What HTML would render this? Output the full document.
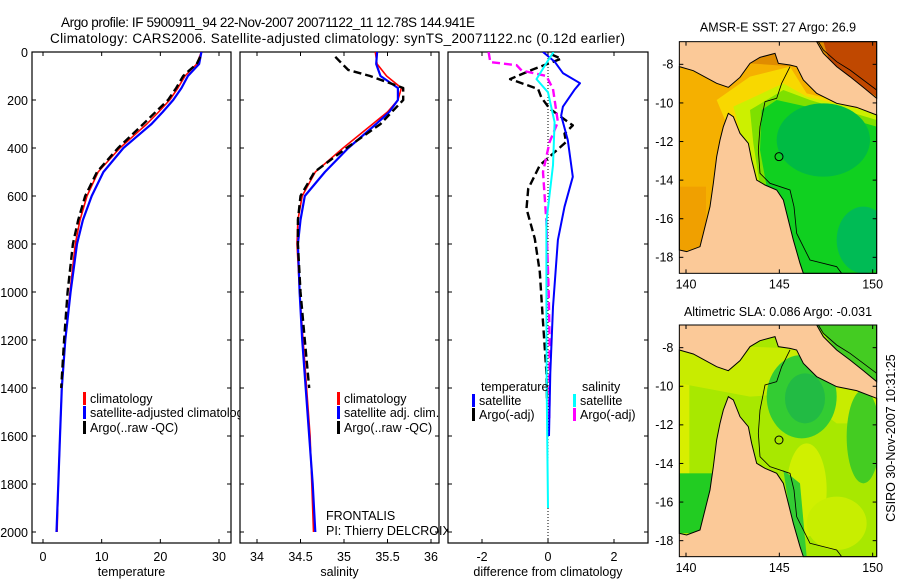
<!DOCTYPE html>
<html><head><meta charset="utf-8"><style>
html,body{margin:0;padding:0;background:#fff;}
svg{display:block;font-family:"Liberation Sans",sans-serif;}
</style></head><body>
<svg id="fig" width="900" height="580" viewBox="0 0 900 580" xmlns="http://www.w3.org/2000/svg">
<rect x="0" y="0" width="900" height="580" fill="#fff"/>
<text x="61" y="27" font-size="13.5" textLength="414">Argo profile: IF 5900911_94 22-Nov-2007 20071122_11 12.78S 144.941E</text>
<text x="50" y="43" font-size="13.5" textLength="575">Climatology: CARS2006. Satellite-adjusted climatology: synTS_20071122.nc (0.12d earlier)</text>
<g id="charts"></g>
<g id="maps"></g>
<text transform="translate(895,438) rotate(-90)" text-anchor="middle" font-size="12.5">CSIRO 30-Nov-2007 10:31:25</text>
</svg>
<script>
// ---- data ----
const depth = [0,50,100,150,200,250,300,400,500,600,700,800,1000,1200,1400,1600,1800,2000];
const tempClim = [27.0,26.2,24.2,23.0,21.6,19.7,17.7,13.1,9.4,7.5,6.3,5.5,4.6,3.8,3.2,2.9,2.6,2.4];
const tempSat  = [27.0,26.6,24.7,23.6,22.2,20.4,18.5,13.7,10.3,8.3,6.8,5.8,4.7,3.8,3.2,2.9,2.6,2.3];
const argoDepth = [20,50,75,100,150,200,250,300,400,500,600,700,800,1000,1200,1400];
const tempArgo = [26.8,26.2,25.0,23.9,22.7,21.3,19.2,17.1,12.8,9.2,7.2,6.0,5.1,4.2,3.6,3.1];
const salClim = [35.36,35.38,35.49,35.66,35.62,35.50,35.33,34.99,34.67,34.52,34.47,34.46,34.49,34.53,34.57,34.61,34.63,34.65];
const salSat  = [35.38,35.37,35.42,35.62,35.62,35.52,35.37,35.05,34.78,34.55,34.50,34.47,34.49,34.52,34.56,34.60,34.64,34.67];
const salArgo = [34.90,34.98,35.05,35.30,35.68,35.68,35.55,35.42,35.03,34.66,34.50,34.47,34.47,34.50,34.55,34.60];
const dTsatDepth = [0,40,88,130,158,228,265,367,520,645,783,1062,1337,1600];
const dTsat = [-0.15,0.2,0.45,0.97,0.8,0.45,0.4,0.6,0.75,0.5,0.3,0.15,0.07,0.03];
const dSsatDepth = [0,42,113,168,292,472,708,1000,1400,1900];
const dSsat = [0.17,-0.03,-0.35,0.0,0.2,0.15,-0.05,-0.05,-0.04,0.0];
const dTargoDepth = [10,28,75,113,154,190,236,306,340,375,472,570,653,778,917,1125,1333,1450];
const dTargo = [0.1,0.4,-0.5,-1.15,-0.3,-0.2,0.05,0.75,0.5,0.55,-0.25,-0.6,-0.65,-0.4,-0.25,-0.15,-0.05,-0.03];
const dSargoDepth = [0,42,55,77,100,154,292,375,500,708,1000,1200,1540];
const dSargo = [-1.8,-1.75,-0.95,-0.8,-0.05,0.15,0.3,0.05,-0.15,-0.05,0.02,0.05,0.04];
const depthTicks = [0,200,400,600,800,1000,1200,1400,1600,1800,2000];
const tempTicks = [0,10,20,30];
const salTicks = [34,34.5,35,35.5,36];
const salTickLabels = ["34","34.5","35","35.5","36"];
const diffTicks = [-2,0,2];
const lonTicks = [140,145,150];
const latTicks = [-8,-10,-12,-14,-16,-18];

const NS="http://www.w3.org/2000/svg";
const root=document.getElementById('charts');
function mk(tag, attrs, parent){const e=document.createElementNS(NS,tag);for(const k in attrs)e.setAttribute(k,attrs[k]);(parent||root).appendChild(e);return e;}
const yD = d => 52 + d*0.24;
const pTop=52, pBot=543;
const panels=[
 {x0:32,x1:231,sx:v=>43+v*5.867,ticks:tempTicks,labels:["0","10","20","30"],title:"temperature",name:"temperature-panel"},
 {x0:240,x1:439,sx:v=>257+(v-34)*87,ticks:salTicks,labels:salTickLabels,title:"salinity",name:"salinity-panel"},
 {x0:448,x1:648,sx:v=>548+v*33,ticks:diffTicks,labels:["-2","0","2"],title:"difference from climatology",name:"difference-panel"}
];
function line(p,depths,vals,color,w,dash,name,idx){
  const pts=depths.map((d,i)=>p.sx(vals[i]).toFixed(1)+","+yD(d).toFixed(1)).join(" ");
  const pl=mk('polyline',{points:pts,fill:"none",stroke:color,"stroke-width":w,"stroke-linejoin":"round","clip-path":"url(#clip"+idx+")"},p.g);
  if(dash)pl.setAttribute('stroke-dasharray',dash);
  
  
}
const defs=mk('defs',{});
panels.forEach((p,i)=>{
  const cp=mk('clipPath',{id:"clip"+i},defs);
  mk('rect',{x:p.x0,y:pTop,width:p.x1-p.x0,height:pBot-pTop},cp);
  const g=mk('g',{});
  
  
  p.g=g;
  mk('rect',{x:p.x0,y:pTop,width:p.x1-p.x0,height:pBot-pTop,fill:"#fff",stroke:"#000","stroke-width":1.2},g);
  depthTicks.forEach(d=>{
    mk('line',{x1:p.x0,x2:p.x0+4,y1:yD(d),y2:yD(d),stroke:"#000"},g);
    mk('line',{x1:p.x1,x2:p.x1-4,y1:yD(d),y2:yD(d),stroke:"#000"},g);
    if(i===0){const t=mk('text',{x:28,y:yD(d)+5,"text-anchor":"end","font-size":12.5},g);t.textContent=d;
      
      }
  });
  p.ticks.forEach((v,k)=>{
    const x=p.sx(v);
    mk('line',{x1:x,x2:x,y1:pTop,y2:pTop+4,stroke:"#000"},g);
    mk('line',{x1:x,x2:x,y1:pBot,y2:pBot-4,stroke:"#000"},g);
    const t=mk('text',{x:x,y:561,"text-anchor":"middle","font-size":12.5},g);t.textContent=p.labels[k];
    
    
  });
  const tt=mk('text',{x:(p.x0+p.x1)/2,y:576,"text-anchor":"middle","font-size":12.5},g);tt.textContent=p.title;
  
  
});
// panel 1
line(panels[0],depth,tempClim,"#ff0000",1.6,null,"temp-climatology-line",0);
line(panels[0],depth,tempSat,"#0000ff",2.2,null,"temp-satellite-line",0);
line(panels[0],argoDepth,tempArgo,"#000",2.4,"8,4","temp-argo-line",0);
// panel 2
line(panels[1],depth,salClim,"#ff0000",1.6,null,"sal-climatology-line",1);
line(panels[1],depth,salSat,"#0000ff",2.2,null,"sal-satellite-line",1);
line(panels[1],argoDepth,salArgo,"#000",2.4,"8,4","sal-argo-line",1);
// panel 3
mk('line',{x1:548,x2:548,y1:pTop,y2:pBot,stroke:"#000","stroke-dasharray":"1,2"},panels[2].g);
line(panels[2],dTargoDepth,dTargo,"#000",2.4,"8,4","diff-temp-argo-line",2);
line(panels[2],dSargoDepth,dSargo,"#ff00ff",2.4,"8,4","diff-sal-argo-line",2);
line(panels[2],dTsatDepth,dTsat,"#0000ff",2,null,"diff-temp-satellite-line",2);
line(panels[2],dSsatDepth,dSsat,"#00ffff",2,null,"diff-sal-satellite-line",2);
// legends
function leg(x,y,color,txt,g){
  mk('rect',{x:x,y:y-11,width:3,height:13,fill:color},g);
  const t=mk('text',{x:x+7,y:y,"font-size":12.5},g);t.textContent=txt;
  
  
}
leg(83,403,"#ff0000","climatology",panels[0].g);
leg(83,417,"#0000ff","satellite-adjusted climatology",panels[0].g);
leg(83,432,"#000","Argo(..raw -QC)",panels[0].g);
leg(337,403,"#ff0000","climatology",panels[1].g);
leg(337,417,"#0000ff","satellite adj. clim.",panels[1].g);
leg(337,432,"#000","Argo(..raw -QC)",panels[1].g);
const fr=mk('text',{x:326,y:520,"font-size":12.5},panels[1].g);fr.textContent="FRONTALIS";


const pi=mk('text',{x:326,y:535,"font-size":12.5},panels[1].g);pi.textContent="PI: Thierry DELCROIX";


root.appendChild(panels[1].g);
root.appendChild(panels[2].g);
const g3=panels[2].g;
let t3=mk('text',{x:481,y:391,"font-size":12.5},g3);t3.textContent="temperature";


t3=mk('text',{x:582,y:391,"font-size":12.5},g3);t3.textContent="salinity";


leg(472,405,"#0000ff","satellite",g3);
leg(472,419,"#000","Argo(-adj)",g3);
leg(573,405,"#00ffff","satellite",g3);
leg(573,419,"#ff00ff","Argo(-adj)",g3);

// ---- maps ----
const mroot=document.getElementById('maps');
const sea="88,200 130,212 200,250 235,262 270,232 300,190 330,172 375,160 385,190 420,195 440,200 460,240 500,280 560,310 620,322 680,345 680,820 460,820 450,790 430,720 410,640 400,600 380,570 345,555 320,540 305,480 295,430 270,400 250,350 235,340 220,380 210,420 200,470 190,550 180,620 160,700 150,740 110,755 88,750";
const sea2="500,125 520,160 560,200 600,230 640,262 680,295 680,125";
const iso="420,200 395,250 380,295 345,305 330,380 325,450 330,520 360,550 420,570 432,620 440,700 480,780 560,800 575,820";
const iso2="505,125 520,150 560,185 600,210 640,240 680,270";
function makeMap(ox,oy,name,titleTxt,titleY,sst){
  const g=mk('g',{transform:`translate(${ox},${oy}) scale(0.33333)`},mroot);
  
  
  const cid=name+"-clip";
  const cp=mk('clipPath',{id:cid},g);
  mk('polygon',{points:sea},cp);mk('polygon',{points:sea2},cp);
  mk('rect',{x:88,y:125,width:592,height:695,fill:"#fbc998"},g);
  const cg=mk('g',{"clip-path":`url(#${cid})`},g);
  if(sst){
    mk('rect',{x:88,y:125,width:592,height:695,fill:"#f5b000"},cg);
    mk('rect',{x:88,y:560,width:80,height:200,fill:"#f0a000"},cg);
    mk('polygon',{points:"88,200 300,190 440,200 680,300 680,125 500,125",fill:"#e08c00"},cg);
    mk('polygon',{points:"520,125 680,125 680,290 600,240 540,190",fill:"#c04800"},cg);
    mk('polygon',{points:"200,300 300,230 420,200 470,280 680,330 680,820 420,820 300,560 250,420",fill:"#f8d800"},cg);
    mk('polygon',{points:"250,320 400,250 470,290 680,340 680,820 430,820 315,560 280,430",fill:"#ccf000"},cg);
    mk('polygon',{points:"300,330 400,270 480,300 680,360 680,820 440,820 330,560 310,430",fill:"#7ee000"},cg);
    mk('polygon',{points:"335,330 380,300 470,320 680,380 680,820 450,820 350,560 330,450",fill:"#10d020"},cg);
    mk('ellipse',{cx:520,cy:420,rx:140,ry:110,fill:"#00bb44"},cg);
    mk('ellipse',{cx:640,cy:720,rx:80,ry:100,fill:"#00bb55"},cg);
  } else {
    mk('rect',{x:88,y:125,width:592,height:695,fill:"#a8e800"},cg);
    mk('rect',{x:88,y:125,width:30,height:695,fill:"#d8ee00"},cg);
    mk('rect',{x:88,y:570,width:100,height:180,fill:"#22cc22"},cg);
    mk('polygon',{points:"88,190 300,190 420,195 520,230 680,300 680,420 560,420 440,330 300,340 88,300",fill:"#c8ec00"},cg);
    mk('ellipse',{cx:455,cy:340,rx:105,ry:125,fill:"#33cc33"},cg);
    mk('ellipse',{cx:465,cy:345,rx:60,ry:75,fill:"#22bb44"},cg);
    mk('ellipse',{cx:640,cy:460,rx:50,ry:140,fill:"#44cc22"},cg);
    mk('ellipse',{cx:470,cy:620,rx:60,ry:140,fill:"#d0f000"},cg);
    mk('ellipse',{cx:560,cy:720,rx:90,ry:80,fill:"#c8ee00"},cg);
    mk('polygon',{points:"400,560 450,600 470,820 440,820",fill:"#33cc33"},cg);
    mk('polygon',{points:"500,125 680,125 680,300 560,200",fill:"#44cc22"},cg);
  }
  mk('polygon',{points:sea,fill:"none",stroke:"#000","stroke-width":3},g);
  mk('polygon',{points:sea2,fill:"none",stroke:"#000","stroke-width":3},g);
  mk('polyline',{points:iso,fill:"none",stroke:"#000","stroke-width":2.5},g);
  mk('polyline',{points:iso2,fill:"none",stroke:"#000","stroke-width":2.5},g);
  const c=mk('circle',{cx:387,cy:470,r:12,fill:"none",stroke:"#000","stroke-width":3},g);
  
  
  mk('rect',{x:88,y:125,width:592,height:695,fill:"none",stroke:"#000","stroke-width":3},g);
  lonTicks.forEach(lon=>{
    const x=108+(lon-140)*56;
    mk('line',{x1:x,x2:x,y1:125,y2:137,stroke:"#000","stroke-width":3},g);
    mk('line',{x1:x,x2:x,y1:820,y2:808,stroke:"#000","stroke-width":3},g);
    const t=mk('text',{x:x,y:866,"text-anchor":"middle","font-size":37.5},g);t.textContent=lon;
    
    
  });
  latTicks.forEach(lat=>{
    const y=193+(-8-lat)*57.9;
    mk('line',{x1:88,x2:100,y1:y,y2:y,stroke:"#000","stroke-width":3},g);
    mk('line',{x1:680,x2:668,y1:y,y2:y,stroke:"#000","stroke-width":3},g);
    const t=mk('text',{x:70,y:y+13,"text-anchor":"end","font-size":37.5},g);t.textContent=lat;
    
    
  });
  const tt=mk('text',{x:384,y:titleY,"text-anchor":"middle","font-size":37.5},g);tt.textContent=titleTxt;
  
  
}
makeMap(650,0,"sst-map","AMSR-E SST: 27 Argo: 26.9",95,true);
makeMap(650,283.33,"sla-map","Altimetric SLA: 0.086 Argo: -0.031",98,false);
</script>
</body></html>
